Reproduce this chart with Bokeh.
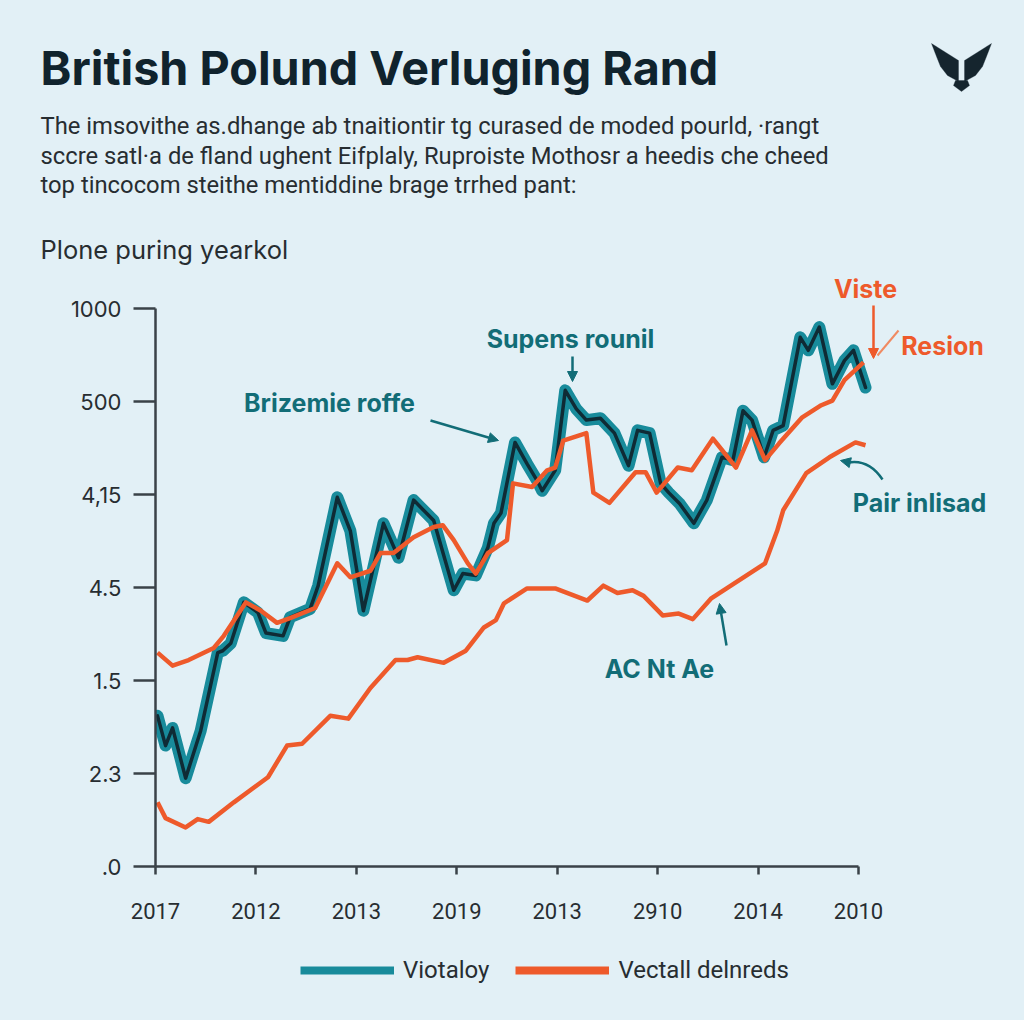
from bokeh.plotting import figure
from bokeh.layouts import column, row
from bokeh.models import (FixedTicker, Label, Arrow, NormalHead, Legend, LegendItem,
                          PolyAnnotation, Range1d)
from bokeh.embed import file_html
from bokeh.resources import INLINE

# ---------------- data ----------------
x_labels = ["2017", "2012", "2013", "2019", "2013", "2910", "2014", "2010"]
y_labels = [".0", "2.3", "1.5", "4.5", "4,15", "500", "1000"]

teal_x = [0.02, 0.10, 0.17, 0.30, 0.45, 0.62, 0.67, 0.75, 0.88, 1.02, 1.10, 1.27, 1.34, 1.54,
          1.62, 1.81, 1.94, 2.07, 2.27, 2.42, 2.57, 2.77, 2.97, 3.06, 3.19, 3.31, 3.37, 3.44,
          3.58, 3.70, 3.80, 3.85, 3.98, 4.08, 4.19, 4.29, 4.43, 4.57, 4.71, 4.80, 4.92, 5.03,
          5.11, 5.22, 5.36, 5.49, 5.64, 5.75, 5.85, 5.94, 6.06, 6.15, 6.25, 6.42, 6.50, 6.61,
          6.74, 6.86, 6.95, 7.07]
teal_y = [1.62, 1.30, 1.49, 0.95, 1.46, 2.30, 2.32, 2.40, 2.84, 2.73, 2.51, 2.48, 2.68, 2.77,
          3.02, 3.97, 3.61, 2.75, 3.69, 3.32, 3.94, 3.72, 2.97, 3.15, 3.13, 3.43, 3.69, 3.80,
          4.56, 4.33, 4.15, 4.04, 4.26, 5.12, 4.92, 4.80, 4.82, 4.66, 4.31, 4.69, 4.66, 4.12,
          4.02, 3.90, 3.69, 3.94, 4.40, 4.37, 4.90, 4.80, 4.40, 4.69, 4.74, 5.69, 5.55, 5.80,
          5.19, 5.44, 5.55, 5.15]

upper_x = [0.02, 0.17, 0.33, 0.58, 0.68, 0.90, 1.05, 1.21, 1.34, 1.59, 1.81, 1.94, 2.14, 2.24,
           2.37, 2.57, 2.77, 2.86, 2.97, 3.11, 3.19, 3.31, 3.50, 3.56, 3.75, 3.90, 3.98, 4.06,
           4.29, 4.36, 4.52, 4.78, 4.88, 4.99, 5.20, 5.34, 5.55, 5.78, 5.94, 6.07, 6.21, 6.44,
           6.63, 6.74, 6.86, 7.05]
upper_y = [2.30, 2.16, 2.22, 2.35, 2.48, 2.84, 2.75, 2.62, 2.67, 2.78, 3.26, 3.11, 3.18, 3.37,
           3.37, 3.54, 3.65, 3.67, 3.51, 3.26, 3.15, 3.37, 3.51, 4.12, 4.08, 4.26, 4.29, 4.58,
           4.66, 4.02, 3.91, 4.24, 4.24, 4.02, 4.29, 4.26, 4.60, 4.29, 4.69, 4.37, 4.55, 4.83,
           4.96, 5.01, 5.23, 5.42]

lower_x = [0.02, 0.10, 0.30, 0.42, 0.53, 0.78, 1.12, 1.31, 1.46, 1.74, 1.92, 2.14, 2.39, 2.51,
           2.61, 2.87, 3.09, 3.27, 3.39, 3.47, 3.70, 3.98, 4.30, 4.46, 4.60, 4.75, 4.86, 5.05,
           5.21, 5.35, 5.53, 6.07, 6.19, 6.25, 6.48, 6.71, 6.97, 7.07]
lower_y = [0.69, 0.52, 0.42, 0.51, 0.48, 0.69, 0.96, 1.30, 1.32, 1.62, 1.59, 1.92, 2.22, 2.22,
           2.25, 2.19, 2.32, 2.57, 2.65, 2.83, 2.99, 2.99, 2.86, 3.02, 2.94, 2.97, 2.91, 2.70,
           2.72, 2.66, 2.88, 3.26, 3.61, 3.83, 4.23, 4.40, 4.56, 4.53]

# ---------------- style ----------------
BG = "#e2f0f6"
TEAL = "#188b9b"
DARK = "#0f2b35"
ORANGE = "#ee5a2b"
ATEAL = "#126d77"
TXT = "#272d31"
TITLE = "#10232d"
W = 1024
HEAD_H = 268          # header band (page px 0..268)
FOOT_TOP = 935        # footer band (page px 935..1020)
PAGE_H = 1020

# main frame position on the page (page pixels)
FL, FR, FB, FT = 155, 858, 866, 308


def X(px):
    return (px - FL) * 7 / (FR - FL)


def Y(py):
    return (FB - py) * 6 / (FB - FT)


def style_fig(f):
    f.background_fill_color = BG
    f.border_fill_color = BG
    f.outline_line_color = None
    f.grid.visible = False


def add_label(f, text, x, y, size, color, font="Roboto", bold=False, align="left"):
    f.add_layout(Label(x=x, y=y, text=text, text_font=font,
                       text_font_size=f"{size}px", text_color=color,
                       text_font_style="bold" if bold else "normal",
                       text_align=align, text_baseline="middle"))


# ================= header =================
head = figure(width=W, height=HEAD_H, x_range=Range1d(0, W), y_range=Range1d(HEAD_H, 0),
              x_axis_location=None, y_axis_location=None, min_border=0,
              output_backend="svg", toolbar_location=None)
style_fig(head)
add_label(head, "British Polund Verluging Rand", 40, 67, 46.7, TITLE, font="Inter", bold=True)
add_label(head, "The imsovithe as.dhange ab tnaitiontir tg curased de moded pourld, \u00b7rangt",
          40, 125, 23.8, TXT)
add_label(head, "sccre satl\u00b7a de fland ughent Eifplaly, Ruproiste Mothosr a heedis che cheed",
          40, 155, 23.8, TXT)
add_label(head, "top tincocom steithe mentiddine brage trrhed pant:", 40, 184, 23.8, TXT)
add_label(head, "Plone puring yearkol", 40, 249, 25.5, TXT, font="Inter")

LOGO = "#15252e"
left_wing = [(931, 43), (958, 60), (958, 81), (947, 75), (940, 66), (936, 56)]
right_wing = [(1922 - a, b) for a, b in left_wing]
center = [(955, 80), (967, 80), (969, 85), (961, 91), (953, 85)]
for poly in (left_wing, right_wing, center):
    head.add_layout(PolyAnnotation(xs=[a for a, b in poly], ys=[b for a, b in poly],
                                   fill_color=LOGO, fill_alpha=1, line_color=LOGO))

# ================= main chart =================
MAIN_H = FOOT_TOP - HEAD_H
p_main = figure(width=W, height=MAIN_H,
                x_range=Range1d(0, X(W)), y_range=Range1d(0, Y(HEAD_H)),
                output_backend="svg", toolbar_location=None,
                min_border_left=FL, min_border_right=0, min_border_top=0,
                min_border_bottom=FOOT_TOP - FB)
style_fig(p_main)

for ax in (p_main.xaxis[0], p_main.yaxis[0]):
    ax.axis_line_color = "#3a4248"
    ax.axis_line_width = 2.5
    ax.major_tick_line_color = "#3a4248"
    ax.major_tick_line_width = 2.5
    ax.minor_tick_line_color = None
    ax.major_tick_in = 0
    ax.major_label_text_font = "Inter"
    ax.major_label_text_font_size = "22px"
    ax.major_label_text_color = TXT

p_main.xaxis.bounds = (0, len(x_labels) - 1)
p_main.xaxis.ticker = FixedTicker(ticks=list(range(len(x_labels))))
p_main.xaxis.major_label_overrides = {i: t for i, t in enumerate(x_labels)}
p_main.xaxis.major_tick_out = 8
p_main.xaxis.major_label_standoff = 28
p_main.xaxis.major_label_text_font = "Roboto"

p_main.yaxis.bounds = (0, len(y_labels) - 1)
p_main.yaxis.ticker = FixedTicker(ticks=list(range(len(y_labels))))
p_main.yaxis.major_label_overrides = {i: t for i, t in enumerate(y_labels)}
p_main.yaxis.major_tick_out = 22
p_main.yaxis.major_label_standoff = 12

p_main.line(teal_x, teal_y, line_width=12, color=TEAL, line_join="round", line_cap="round")
p_main.line(teal_x, teal_y, line_width=3.5, color=DARK, line_join="round", line_cap="round")
p_main.line(upper_x, upper_y, line_width=4.5, color=ORANGE, line_join="round")
p_main.line(lower_x, lower_y, line_width=4.5, color=ORANGE, line_join="round")


def lab(text, px, py, size, color, align="center"):
    add_label(p_main, text, X(px), Y(py), size, color, font="Inter", bold=True, align=align)


lab("Brizemie roffe", 329, 402, 25, ATEAL)
lab("Supens rounil", 570, 338, 25, ATEAL)
lab("Viste", 865, 288, 25, ORANGE)
lab("Resion", 942, 345, 25, ORANGE)
lab("Pair inlisad", 919, 502, 25, ATEAL)
lab("AC Nt Ae", 659, 668, 25, ATEAL)


def arrow(x0, y0, x1, y1, color, head_on=True, width=2.5):
    end = NormalHead(size=10, line_color=color, fill_color=color) if head_on else None
    p_main.add_layout(Arrow(end=end, x_start=X(x0), y_start=Y(y0), x_end=X(x1), y_end=Y(y1),
                            line_color=color, line_width=width))


arrow(430, 420, 498, 440, ATEAL)
arrow(572, 356, 572, 381, ATEAL)
arrow(873, 305, 873, 358, ORANGE)
arrow(898, 330, 877, 355, "#f08a62", head_on=False, width=2)
p_main.bezier(x0=[X(882)], y0=[Y(479)], x1=[X(848)], y1=[Y(462)],
              cx0=[X(872)], cy0=[Y(464)], cx1=[X(860)], cy1=[Y(460)],
              line_color=ATEAL, line_width=2.5)
arrow(849, 462, 840, 460, ATEAL)
arrow(726, 645, 719, 603, ATEAL)

# ================= footer / legend =================
FOOT_H = PAGE_H - FOOT_TOP
foot = figure(width=W, height=FOOT_H, x_range=Range1d(0, W), y_range=Range1d(PAGE_H, FOOT_TOP),
              x_axis_location=None, y_axis_location=None, min_border=0,
              output_backend="svg", toolbar_location=None)
style_fig(foot)
# legend proxies: the real series, which fall outside this strip's visible range
leg_teal = foot.line(teal_x, teal_y, line_width=8, color=TEAL)
leg_orange = foot.line(upper_x, upper_y, line_width=8, color=ORANGE)
legend = Legend(items=[LegendItem(label="Viotaloy", renderers=[leg_teal]),
                       LegendItem(label="Vectall delnreds", renderers=[leg_orange])],
                orientation="horizontal", location=(300, PAGE_H - 986),
                glyph_width=94, glyph_height=32, label_standoff=9, spacing=26,
                padding=0, margin=0, background_fill_alpha=0, border_line_alpha=0,
                label_text_font="Roboto", label_text_font_size="24px",
                label_text_color=TXT)
foot.add_layout(legend)

p = column(row(head), p_main, row(foot), spacing=0,
           styles={"background-color": BG})
open("out.html", "w").write(file_html(p, INLINE))
